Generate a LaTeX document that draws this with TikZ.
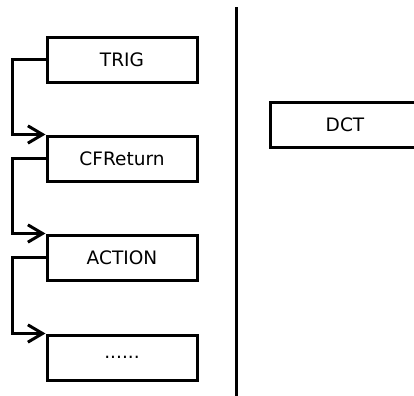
\documentclass[tikz,border=0pt]{standalone}
\usepackage{fontspec}
\setmainfont{DejaVu Sans}
\usetikzlibrary{arrows.meta}
\begin{document}
\begin{tikzpicture}[x=0.75pt,y=-0.75pt,
  box/.style={draw,line width=2.25pt,inner sep=0pt,minimum width=112.5pt,
    minimum height=33.75pt,font=\fontsize{13.9}{16}\selectfont},
  flow/.style={line width=2.25pt,-{Straight Barb[length=11pt,width=13pt,line width=2.25pt]}},
  divider/.style={line width=2.25pt}]
\useasboundingbox (0,0) rectangle (414,396);
% left column: chain of steps
\node[box] (trig) at (122,59.5) {TRIG};
\node[box] (cfr)  at (122,158.5) {CFReturn};
\node[box] (act)  at (122,257.5) {ACTION};
\node[box] (more) at (122,357.5) {......};
% right column
\node[box] (dct)  at (345,125) {DCT};
% separator
\coordinate (sepTop) at (236,7);
\coordinate (sepBot) at (236,396);
\draw[divider] (sepTop) -- (sepBot);
% links from each step into the next one
\draw[flow] (trig.west) -- ++(-33,0) |- (cfr.north west);
\draw[flow] (cfr.west) -- ++(-33,0) |- (act.north west);
\draw[flow] (act.west) -- ++(-33,0) |- (more.north west);
\end{tikzpicture}
\end{document}
